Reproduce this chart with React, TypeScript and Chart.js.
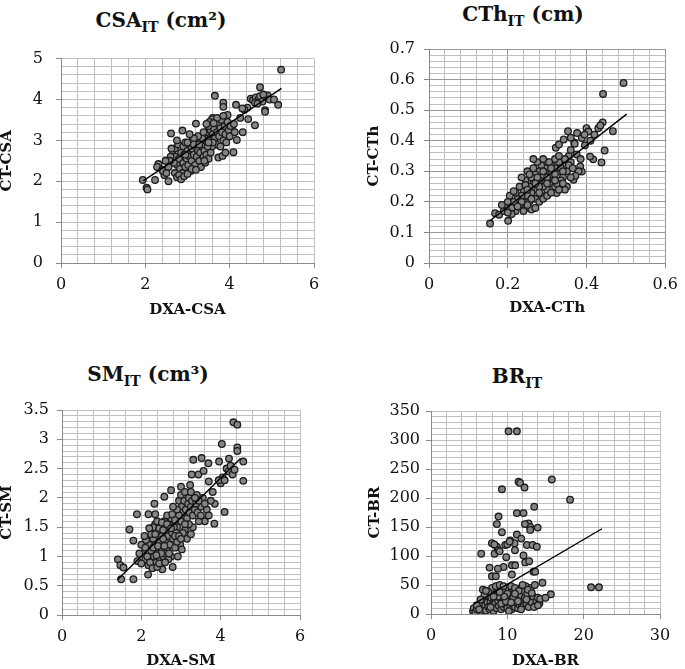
import React, { useEffect, useRef } from "react";
import { Chart, registerables } from "chart.js";

Chart.register(...registerables);

// ---------- DATA ----------
const csaDxa = [1.94,2.03,2.05,2.23,2.31,2.28,2.40,2.45,2.55,2.42,2.61,2.88,3.20,3.65,3.85,3.85,4.15,4.72,5.22,5.15,4.84,4.84,4.60,4.44,4.09,3.73,3.83,4.17,4.31,4.05,3.95,3.60,3.58,
4.50,4.55,4.62,4.68,4.72,4.78,4.85,4.90,4.80,4.95,5.05,4.60,4.42,4.35,4.25,4.30,4.66,
3.40,3.45,3.50,3.55,3.60,3.62,3.65,3.70,3.72,3.75,3.78,3.80,3.82,3.85,3.88,3.90,3.92,3.95,3.98,4.00,4.02,4.10,4.12,3.68,3.58,3.50,3.45,3.52,3.70,3.85,3.78,3.90,3.62,
2.65,2.70,2.72,2.75,2.78,2.80,2.82,2.85,2.88,2.90,2.90,2.92,2.95,2.95,2.98,3.00,3.02,3.05,3.05,3.08,3.10,3.10,3.12,3.15,3.18,3.20,3.22,3.25,3.28,3.30,3.30,3.32,3.35,3.38,3.40,3.42,3.45,3.48,3.50,3.35,3.25,3.15,2.68,2.70,2.75,2.80,2.60,2.62,2.58,2.85,2.92,3.00,3.10,3.20,3.40,3.55,3.60,2.75,2.55,2.50,2.48,3.05,3.38,3.45,2.95,3.00,3.15,3.28,3.50];
const csaCt = [2.03,1.84,1.80,2.03,2.42,2.35,2.28,2.15,2.00,2.25,3.17,3.24,3.41,4.09,3.92,3.82,3.87,4.30,4.73,3.87,3.74,3.70,3.37,3.52,2.71,2.58,2.62,3.01,3.20,3.30,3.62,3.55,3.52,
4.02,3.98,4.05,4.00,4.08,3.95,4.08,4.10,4.12,4.00,4.00,3.92,3.80,3.75,3.55,3.78,3.90,
3.10,3.20,3.00,3.25,3.15,3.30,3.05,3.20,3.40,3.10,3.30,3.50,3.20,3.00,3.35,3.15,2.95,3.45,3.25,3.10,3.35,3.40,3.20,2.90,2.85,3.35,2.90,3.45,3.55,3.60,2.85,2.70,3.42,
2.75,2.80,2.60,2.40,2.90,2.55,2.30,2.70,2.20,2.45,2.85,2.65,2.35,2.95,2.55,2.75,2.40,2.60,2.90,2.25,2.50,2.80,3.00,2.65,2.40,2.85,2.60,2.75,2.50,2.95,2.70,2.35,2.85,2.60,2.75,2.45,2.65,2.85,2.55,3.05,3.10,3.05,2.45,2.20,2.10,2.15,2.60,2.80,2.50,2.05,2.12,2.18,2.30,2.28,2.50,2.70,2.95,3.00,2.35,2.20,2.50,3.15,3.20,3.40,2.65,2.95,2.90,2.90,2.95];
const csaFitDxa = [1.95, 5.23];
const csaFitCt = [2.01, 4.27];

const cthDxa = [0.494,0.442,0.467,0.441,0.430,0.446,0.438,0.417,0.409,0.353,0.376,0.388,0.400,0.322,0.330,0.342,0.369,0.396,0.384,0.388,0.367,0.324,0.201,0.155,0.168,0.178,
0.405,0.420,0.435,0.395,0.410,0.360,0.370,0.355,0.360,0.375,0.385,0.380,0.372,0.350,0.345,0.340,0.335,0.350,0.345,0.330,0.330,0.320,0.320,0.315,0.310,0.310,0.305,0.300,0.300,0.300,0.295,0.290,0.290,0.285,0.285,0.280,0.280,0.275,0.275,0.270,0.270,0.265,0.265,0.260,0.260,0.255,0.255,0.250,0.250,0.245,0.245,0.240,0.240,0.235,0.235,0.230,0.230,0.225,0.220,0.220,0.215,0.210,0.205,0.200,0.195,0.190,0.185,0.210,0.240,0.260,0.250,0.270,0.280,0.290,0.300,0.310,0.320,0.325,0.330,0.340,0.280,0.275,0.265,0.290,0.310,0.320,0.335,0.305,0.255,0.245,0.235,0.225,0.215,0.200,0.290,0.300,0.310,0.270,0.260,0.280,0.250,0.300,0.320,0.340,0.355,0.365,0.360,0.345,0.330,0.360];
const cthCt = [0.589,0.553,0.431,0.460,0.441,0.368,0.329,0.339,0.348,0.431,0.425,0.409,0.441,0.377,0.388,0.404,0.394,0.385,0.316,0.299,0.272,0.229,0.138,0.129,0.163,0.158,
0.430,0.420,0.450,0.420,0.400,0.410,0.390,0.350,0.330,0.355,0.340,0.300,0.285,0.300,0.320,0.280,0.270,0.250,0.240,0.300,0.330,0.310,0.340,0.280,0.320,0.260,0.300,0.330,0.270,0.240,0.310,0.285,0.250,0.320,0.220,0.300,0.270,0.240,0.330,0.290,0.210,0.260,0.310,0.230,0.280,0.200,0.250,0.300,0.220,0.270,0.180,0.240,0.200,0.280,0.220,0.190,0.250,0.210,0.230,0.170,0.200,0.180,0.220,0.200,0.180,0.170,0.190,0.160,0.170,0.175,0.190,0.180,0.200,0.210,0.220,0.230,0.250,0.260,0.240,0.260,0.250,0.280,0.340,0.340,0.290,0.290,0.310,0.330,0.290,0.255,0.200,0.185,0.235,0.165,0.300,0.280,0.310,0.260,0.210,0.230,0.240,0.260,0.270,0.300,0.320,0.310,0.280,0.340,0.350,0.370];
const cthFitDxa = [0.155, 0.502];
const cthFitCt = [0.138, 0.487];

const smDxa = [4.32,4.42,4.03,4.42,4.42,3.31,3.52,3.69,3.96,4.21,4.57,4.57,3.27,3.44,3.57,3.23,3.00,2.75,2.58,2.33,1.89,2.18,2.35,1.70,1.80,1.41,1.47,1.55,1.49,1.80,2.17,2.53,2.79,4.10,3.84,
4.15,4.20,4.25,4.30,4.35,4.05,4.00,3.95,4.10,3.80,3.70,3.85,3.75,3.65,3.60,3.70,3.55,3.50,
2.95,3.00,3.02,3.05,3.08,3.10,3.12,3.15,3.18,3.20,3.22,3.25,3.28,3.30,3.35,3.38,3.40,3.42,3.45,3.30,3.20,3.10,3.00,2.95,2.90,3.05,3.15,3.25,2.98,3.02,
2.20,2.25,2.28,2.30,2.32,2.35,2.35,2.38,2.40,2.42,2.45,2.48,2.50,2.50,2.52,2.55,2.58,2.60,2.62,2.65,2.68,2.70,2.72,2.75,2.78,2.80,2.82,2.85,2.88,2.90,2.92,2.00,2.05,2.10,2.10,2.15,2.18,2.22,2.28,2.40,2.45,2.30,2.55,2.62,2.75,2.68,2.60,2.40,2.30,2.25,2.20,2.45,2.52,2.65,2.78,2.85,1.95,1.90,2.00,2.12,2.08,2.50,2.70,2.85,2.95,2.90,2.80,2.65,2.55,2.35,2.42,2.38,2.58,3.00,3.10,2.75,3.45,3.35,3.60,3.25,3.50];
const smCt = [3.29,3.25,2.92,2.86,2.80,2.65,2.68,2.59,2.62,2.67,2.62,2.29,2.40,2.40,2.46,2.22,2.19,2.13,2.02,1.90,1.72,1.72,1.72,1.46,1.27,0.95,0.85,0.81,0.61,0.61,0.69,0.78,0.82,1.76,1.56,
2.50,2.45,2.55,2.40,2.48,2.35,2.25,2.30,2.30,2.10,2.28,1.90,1.95,1.80,1.60,1.70,2.00,1.85,
1.95,2.05,1.85,1.75,1.95,2.10,1.80,1.65,1.90,2.00,1.75,1.85,1.95,1.70,1.80,1.90,2.05,1.75,1.60,1.50,1.55,1.45,1.60,1.70,1.50,1.40,1.30,1.38,1.20,1.12,
1.20,1.10,1.45,1.30,1.00,1.55,1.20,0.90,1.40,1.05,1.25,0.95,1.50,1.15,1.35,1.00,1.60,1.25,1.45,1.10,1.35,1.55,1.20,1.65,1.40,1.30,1.50,1.15,1.40,1.25,1.00,1.20,1.05,0.95,1.15,1.00,0.85,0.90,0.80,0.82,0.88,1.15,1.30,1.05,1.00,0.95,0.90,1.60,1.50,1.38,1.48,1.48,1.58,1.70,1.72,1.62,1.05,0.92,0.88,1.28,1.35,1.05,1.05,1.35,1.35,1.80,1.85,1.55,1.45,1.38,1.18,1.02,1.18,1.30,1.55,1.48,1.95,2.00,1.90,2.10,1.70];
const smFitDxa = [1.40, 4.50];
const smFitCt = [0.60, 2.67];

const brDxa = [10.16,11.25,15.83,11.47,11.68,12.25,9.29,18.22,13.52,11.25,12.12,8.85,8.63,12.77,12.99,9.29,13.98,11.25,11.82,12.56,13.30,13.86,7.98,8.63,9.72,10.38,10.95,6.58,8.33,8.85,9.86,12.12,12.34,12.86,7.67,9.50,8.76,10.60,11.03,7.98,8.50,10.60,13.43,13.65,14.60,20.97,22.00,15.70,
10.0,10.3,11.0,12.3,13.0,8.3,9.0,
5.5,5.6,5.8,6.0,6.2,6.5,6.6,6.8,6.9,7.0,7.1,7.2,7.3,7.4,7.5,7.6,7.7,7.8,7.9,8.0,8.1,8.2,8.3,8.4,8.5,8.6,8.7,8.8,8.9,9.0,9.1,9.2,9.3,9.4,9.5,9.6,9.7,9.8,9.9,10.0,10.1,10.2,10.3,10.4,10.5,10.6,10.7,10.8,10.9,11.0,11.1,11.2,11.3,11.4,11.5,11.6,11.7,11.8,11.9,12.0,12.1,12.2,12.3,12.4,12.5,12.6,12.8,13.0,13.1,13.2,13.4,13.6,13.8,14.0,14.2,14.3,
8.0,8.5,9.0,9.5,10.0,10.5,11.0,11.5,12.0,7.5,7.0,6.5,6.0,9.2,9.8,10.2,10.8,11.4,8.8,9.6,11.0,12.5,10.5,9.0,8.2,7.8,7.2,6.3,13.5,14.0,12.7,11.8,13.2,15.0];
const brCt = [315,315,232,228,226,218,215,197,185,174,174,168,155,156,150,141,149,137,130,119,119,116,122,116,119,127,122,104,104,110,98,101,89,91,80,81,78,84,84,65,65,68,73,73,54,46,46,34,
120,125,110,155,145,120,108,
5,10,3,8,12,5,18,42,10,25,15,6,30,20,12,35,8,22,28,15,38,5,25,18,32,10,42,22,14,28,46,8,35,20,12,40,26,16,32,10,45,22,30,14,38,8,25,18,42,12,30,20,36,10,26,16,44,32,12,22,40,15,28,48,18,35,12,25,45,20,30,50,22,28,18,26,
45,48,50,48,35,48,45,40,50,38,32,25,15,18,22,5,28,22,30,30,35,25,20,38,30,12,40,8,12,15,42,8,36,28];
const brFitDxa = [5.58, 22.4];
const brFitCt = [17, 147];

// ---------- LAYOUT / STYLE ----------
type Panel = {
  title: string; sub: string; unit: string;
  xLabel: string; yLabel: string;
  xs: number[]; ys: number[]; fx: number[]; fy: number[];
  xMax: number; xMajor: number; xMinor: number;
  yMax: number; yMajor: number; yMinor: number;
  majorColor: string;
  canvas: [number, number, number, number];
  plot: [number, number, number, number];
  yTitleX: number; xTitleY: number; yTickPad: number;
  titlePos: [number, number];
};

const MINOR = "#c0c0c0";
const AXIS = "#8a8a8a";
const SERIF = "'DejaVu Serif', 'Liberation Serif', serif";

const panels: Panel[] = [
  { title: "CSA", sub: "IT", unit: " (cm²)", xLabel: "DXA-CSA", yLabel: "CT-CSA",
    xs: csaDxa, ys: csaCt, fx: csaFitDxa, fy: csaFitCt,
    xMax: 6, xMajor: 2, xMinor: 0.4, yMax: 5, yMajor: 1, yMinor: 0.2, majorColor: MINOR,
    canvas: [0, 36, 330, 284], plot: [61, 56, 314, 263], yTitleX: 7, xTitleY: 310, yTickPad: 13, titlePos: [161, 21] },
  { title: "CTh", sub: "IT", unit: " (cm)", xLabel: "DXA-CTh", yLabel: "CT-CTh",
    xs: cthDxa, ys: cthCt, fx: cthFitDxa, fy: cthFitCt,
    xMax: 0.6, xMajor: 0.2, xMinor: 0.04, yMax: 0.7, yMajor: 0.1, yMinor: 0.02, majorColor: "#969696",
    canvas: [367, 30, 318, 288], plot: [429, 49, 670, 263], yTitleX: 374.5, xTitleY: 308, yTickPad: 9, titlePos: [523, 15] },
  { title: "SM", sub: "IT", unit: " (cm³)", xLabel: "DXA-SM", yLabel: "CT-SM",
    xs: smDxa, ys: smCt, fx: smFitDxa, fy: smFitCt,
    xMax: 6, xMajor: 2, xMinor: 0.4, yMax: 3.5, yMajor: 0.5, yMinor: 0.1, majorColor: MINOR,
    canvas: [0, 392, 330, 277], plot: [62, 410, 300, 615], yTitleX: 7, xTitleY: 662, yTickPad: 8, titlePos: [148, 375] },
  { title: "BR", sub: "IT", unit: "", xLabel: "DXA-BR", yLabel: "CT-BR",
    xs: brDxa, ys: brCt, fx: brFitDxa, fy: brFitCt,
    xMax: 30, xMajor: 10, xMinor: 2, yMax: 350, yMajor: 50, yMinor: 10, majorColor: MINOR,
    canvas: [367, 392, 318, 277], plot: [431, 411, 660, 614], yTitleX: 375, xTitleY: 662, yTickPad: 6, titlePos: [517, 377] },
];

const isMajor = (v: number, m: number) => Math.abs(v / m - Math.round(v / m)) < 1e-6;
const fmt = (v: number) => String(parseFloat(v.toFixed(4)));

function ScatterPanel({ p }: { p: Panel }) {
  const ref = useRef<HTMLCanvasElement | null>(null);
  useEffect(() => {
    if (!ref.current) return;
    const [cl, ct, cw, ch] = p.canvas;
    const [pl, pt, pr, pb] = p.plot;
    const xPadBottom = Math.max(0, ch - 7.5 - (p.xTitleY - ct));
    const yPadTop = Math.max(0, p.yTitleX - cl - 7.5);
    const tickFont = { family: SERIF, size: 16 };
    const titleFont = { family: SERIF, size: 15, weight: "bold" as const, lineHeight: 1 };
    const gridOpts = (major: number) => ({
      color: (c: any) => (c.tick && isMajor(c.tick.value, major) ? p.majorColor : MINOR),
      tickColor: (c: any) => (c.tick && isMajor(c.tick.value, major) ? AXIS : "rgba(0,0,0,0)"),
      lineWidth: 1,
      tickLength: 5,
    });
    const chart = new Chart(ref.current, {
      type: "scatter",
      data: {
        datasets: [
          {
            type: "line" as any,
            data: p.fx.map((x, i) => ({ x, y: p.fy[i] })),
            borderColor: "#000",
            borderWidth: 1.4,
            pointRadius: 0,
            fill: false,
            showLine: true,
          } as any,
          {
            data: p.xs.map((x, i) => ({ x, y: p.ys[i] })),
            pointRadius: 3.3,
            pointBackgroundColor: "#858585",
            pointBorderColor: "#1c1c1c",
            pointBorderWidth: 1.3,
          } as any,
        ],
      },
      options: {
        responsive: false,
        animation: false,
        layout: { padding: { left: 0, top: pt - ct, right: cl + cw - pr, bottom: 0 } },
        plugins: { legend: { display: false }, tooltip: { enabled: false } },
        scales: {
          x: {
            type: "linear",
            min: 0,
            max: p.xMax,
            afterFit: (s: any) => { s.height = ct + ch - pb; },
            ticks: {
              stepSize: p.xMinor, maxTicksLimit: 1000, autoSkip: false, maxRotation: 0, minRotation: 0,
              padding: 7, color: "#111", font: tickFont,
              callback: (v: any) => (isMajor(Number(v), p.xMajor) ? fmt(Number(v)) : ""),
            },
            grid: gridOpts(p.xMajor),
            border: { color: AXIS, width: 1 },
            title: { display: true, text: p.xLabel, color: "#111", font: titleFont, padding: { top: 0, bottom: xPadBottom } },
          },
          y: {
            type: "linear",
            min: 0,
            max: p.yMax,
            afterFit: (s: any) => { s.width = pl - cl; },
            ticks: {
              stepSize: p.yMinor, maxTicksLimit: 1000, autoSkip: false,
              padding: p.yTickPad, color: "#111", font: tickFont,
              callback: (v: any) => (isMajor(Number(v), p.yMajor) ? fmt(Number(v)) : ""),
            },
            grid: gridOpts(p.yMajor),
            border: { color: AXIS, width: 1 },
            title: { display: true, text: p.yLabel, color: "#111", font: titleFont, padding: { top: yPadTop, bottom: 0 } },
          },
        },
      } as any,
    });
    return () => chart.destroy();
  }, [p]);
  const [cl, ct, cw, ch] = p.canvas;
  return (
    <>
      <canvas
        ref={ref}
        width={cw}
        height={ch}
        style={{ position: "absolute", left: cl, top: ct, width: cw, height: ch }}
      />
      <div
        style={{
          position: "absolute", left: p.titlePos[0], top: p.titlePos[1],
          transform: "translate(-50%, -50%)", whiteSpace: "nowrap",
          fontFamily: SERIF, fontWeight: "bold", fontSize: 20, color: "#111", lineHeight: "24px",
        }}
      >
        {p.title}
        <span style={{ fontSize: 14, position: "relative", top: 5 }}>{p.sub}</span>
        {p.unit}
      </div>
    </>
  );
}

export default function App() {
  return (
    <div style={{ position: "absolute", left: 0, top: 0, width: 685, height: 669, background: "#fff", overflow: "hidden" }}>
      {panels.map((p, i) => (
        <ScatterPanel key={i} p={p} />
      ))}
    </div>
  );
}
